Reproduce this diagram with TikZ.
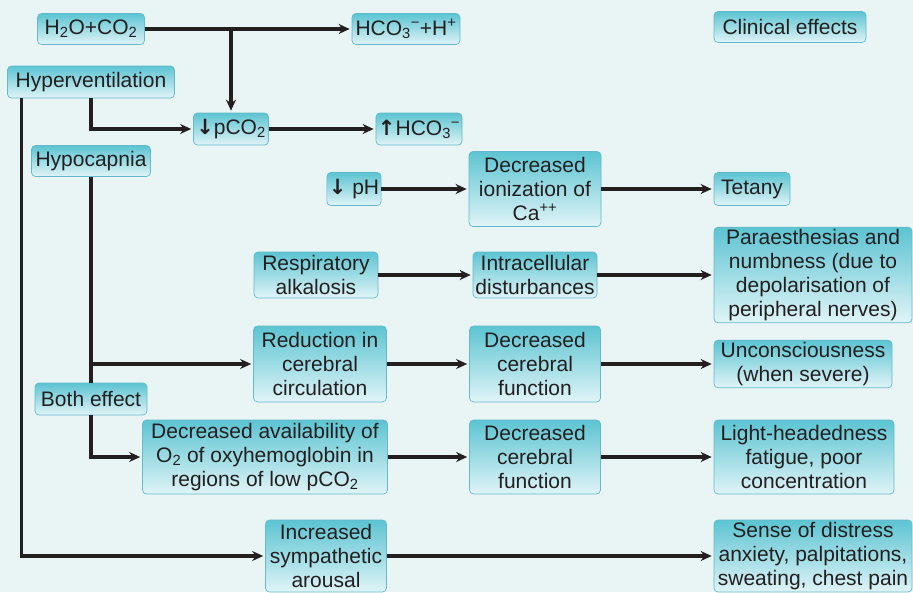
\documentclass[tikz,border=0pt]{standalone}
\usepackage{fontspec}
\setmainfont{Liberation Sans}
\newfontfamily\arrowfont{DejaVu Sans}
\usetikzlibrary{calc,arrows.meta}
\definecolor{bgcol}{RGB}{233,244,245}
\definecolor{boxtop}{RGB}{92,196,210}
\definecolor{boxbot}{RGB}{224,244,247}
\definecolor{boxline}{RGB}{100,185,202}
\definecolor{inkcol}{RGB}{35,31,32}

\begin{document}
\begin{tikzpicture}
[x=1pt,y=-1pt,>={Stealth[length=11pt,width=10pt]},
box/.style={draw=boxline,line width=0.7pt,rounded corners=4pt,top color=boxtop,bottom color=boxbot,
  align=center,inner xsep=2pt,inner ysep=2pt,font=\fontsize{21}{24}\selectfont,text=inkcol},
link/.style={->,line width=3.2pt,draw=inkcol,shorten >=2pt},]

%Background
\useasboundingbox (0,0) rectangle (913,592);
\fill[bgcol] (0,0) rectangle (913,592);

%Reaction boxes
\node (water) at (91,29)[box,minimum width=107,minimum height=31] {H\textsubscript{2}O+CO\textsubscript{2}};
\node (bicarb) at (406,29)[box,minimum width=108,minimum height=31] {HCO\textsubscript{3}\textsuperscript{−}+H\textsuperscript{+}};
\node (clinic) at (790,27)[box,minimum width=152,minimum height=31] {Clinical effects};
\node (hyper) at (91,82)[box,minimum width=167,minimum height=32] {Hyperventilation};
\node (pco2) at (231,129)[box,minimum width=75,minimum height=32] {{\arrowfont\bfseries ↓}pCO\textsubscript{2}};
\node (hco3) at (419,129)[box,minimum width=81,minimum height=32] {{\arrowfont\bfseries ↑}HCO\textsubscript{3}\textsuperscript{−}};
\node (hypo) at (91,161)[box,minimum width=119,minimum height=31] {Hypocapnia};
\node (both) at (91,399)[box,minimum width=112,minimum height=32] {Both effect};

%Middle column
\node (ph) at (354,189)[box,minimum width=52,minimum height=33] {{\arrowfont\bfseries ↓} pH};
\node (resp) at (316,275)[box,minimum width=124,minimum height=46] {Respiratory\\alkalosis};
\node (reduc) at (320,364)[box,minimum width=133,minimum height=76] {Reduction in\\cerebral\\circulation};
\node (avail) at (265,457)[box,minimum width=245,minimum height=74] {Decreased availability of\\O\textsubscript{2} of oxyhemoglobin in\\regions of low pCO\textsubscript{2}};
\node (sympa) at (326,556)[box,minimum width=121,minimum height=72] {Increased\\sympathetic\\arousal};

\node (ioniz) at (535,189)[box,minimum width=132,minimum height=75] {Decreased\\ionization of\\Ca\textsuperscript{++}};
\node (intra) at (535,275)[box,minimum width=124,minimum height=46] {Intracellular\\disturbances};
\node (cereba) at (535,364)[box,minimum width=131,minimum height=76] {Decreased\\cerebral\\function};
\node (cerebb) at (535,457)[box,minimum width=131,minimum height=74] {Decreased\\cerebral\\function};

%Clinical effects column
\node (tetany) at (752,189)[box,minimum width=76,minimum height=33] {Tetany};
\node (paraes) at (813,275)[box,minimum width=198,minimum height=94] {Paraesthesias and\\numbness (due to\\depolarisation of\\peripheral nerves)};
\node (uncon) at (803,364)[box,minimum width=178,minimum height=47] {Unconsciousness\\(when severe)};
\node (light) at (804,457)[box,minimum width=180,minimum height=74] {Light-headedness\\fatigue, poor\\concentration};
\node (distress) at (813,556)[box,minimum width=198,minimum height=72] {Sense of distress\\anxiety, palpitations,\\sweating, chest pain};

%Reaction arrows
\coordinate (split) at (pco2 |- water);
\draw[link] (water) -- (bicarb);
\draw[link] (split) -- (pco2);
\draw[link] (hyper) |- (pco2);
\draw[link] (pco2) -- (hco3);

%Hypocapnia branches
\coordinate (fork) at (hypo |- reduc);
\draw[line width=3.2pt,draw=inkcol] (hypo) -- (both);
\draw[link] (fork) -- (reduc);
\draw[link] (both) |- (avail);
\draw[link] ([xshift=14pt]hyper.south west) |- (sympa);

%Effect chains
\draw[link] (ph) -- (ioniz);
\draw[link] (ioniz) -- (tetany);
\draw[link] (resp) -- (intra);
\draw[link] (intra) -- (paraes);
\draw[link] (reduc) -- (cereba);
\draw[link] (cereba) -- (uncon);
\draw[link] (avail) -- (cerebb);
\draw[link] (cerebb) -- (light);
\draw[link] (sympa) -- (distress);

\end{tikzpicture}
\end{document}
